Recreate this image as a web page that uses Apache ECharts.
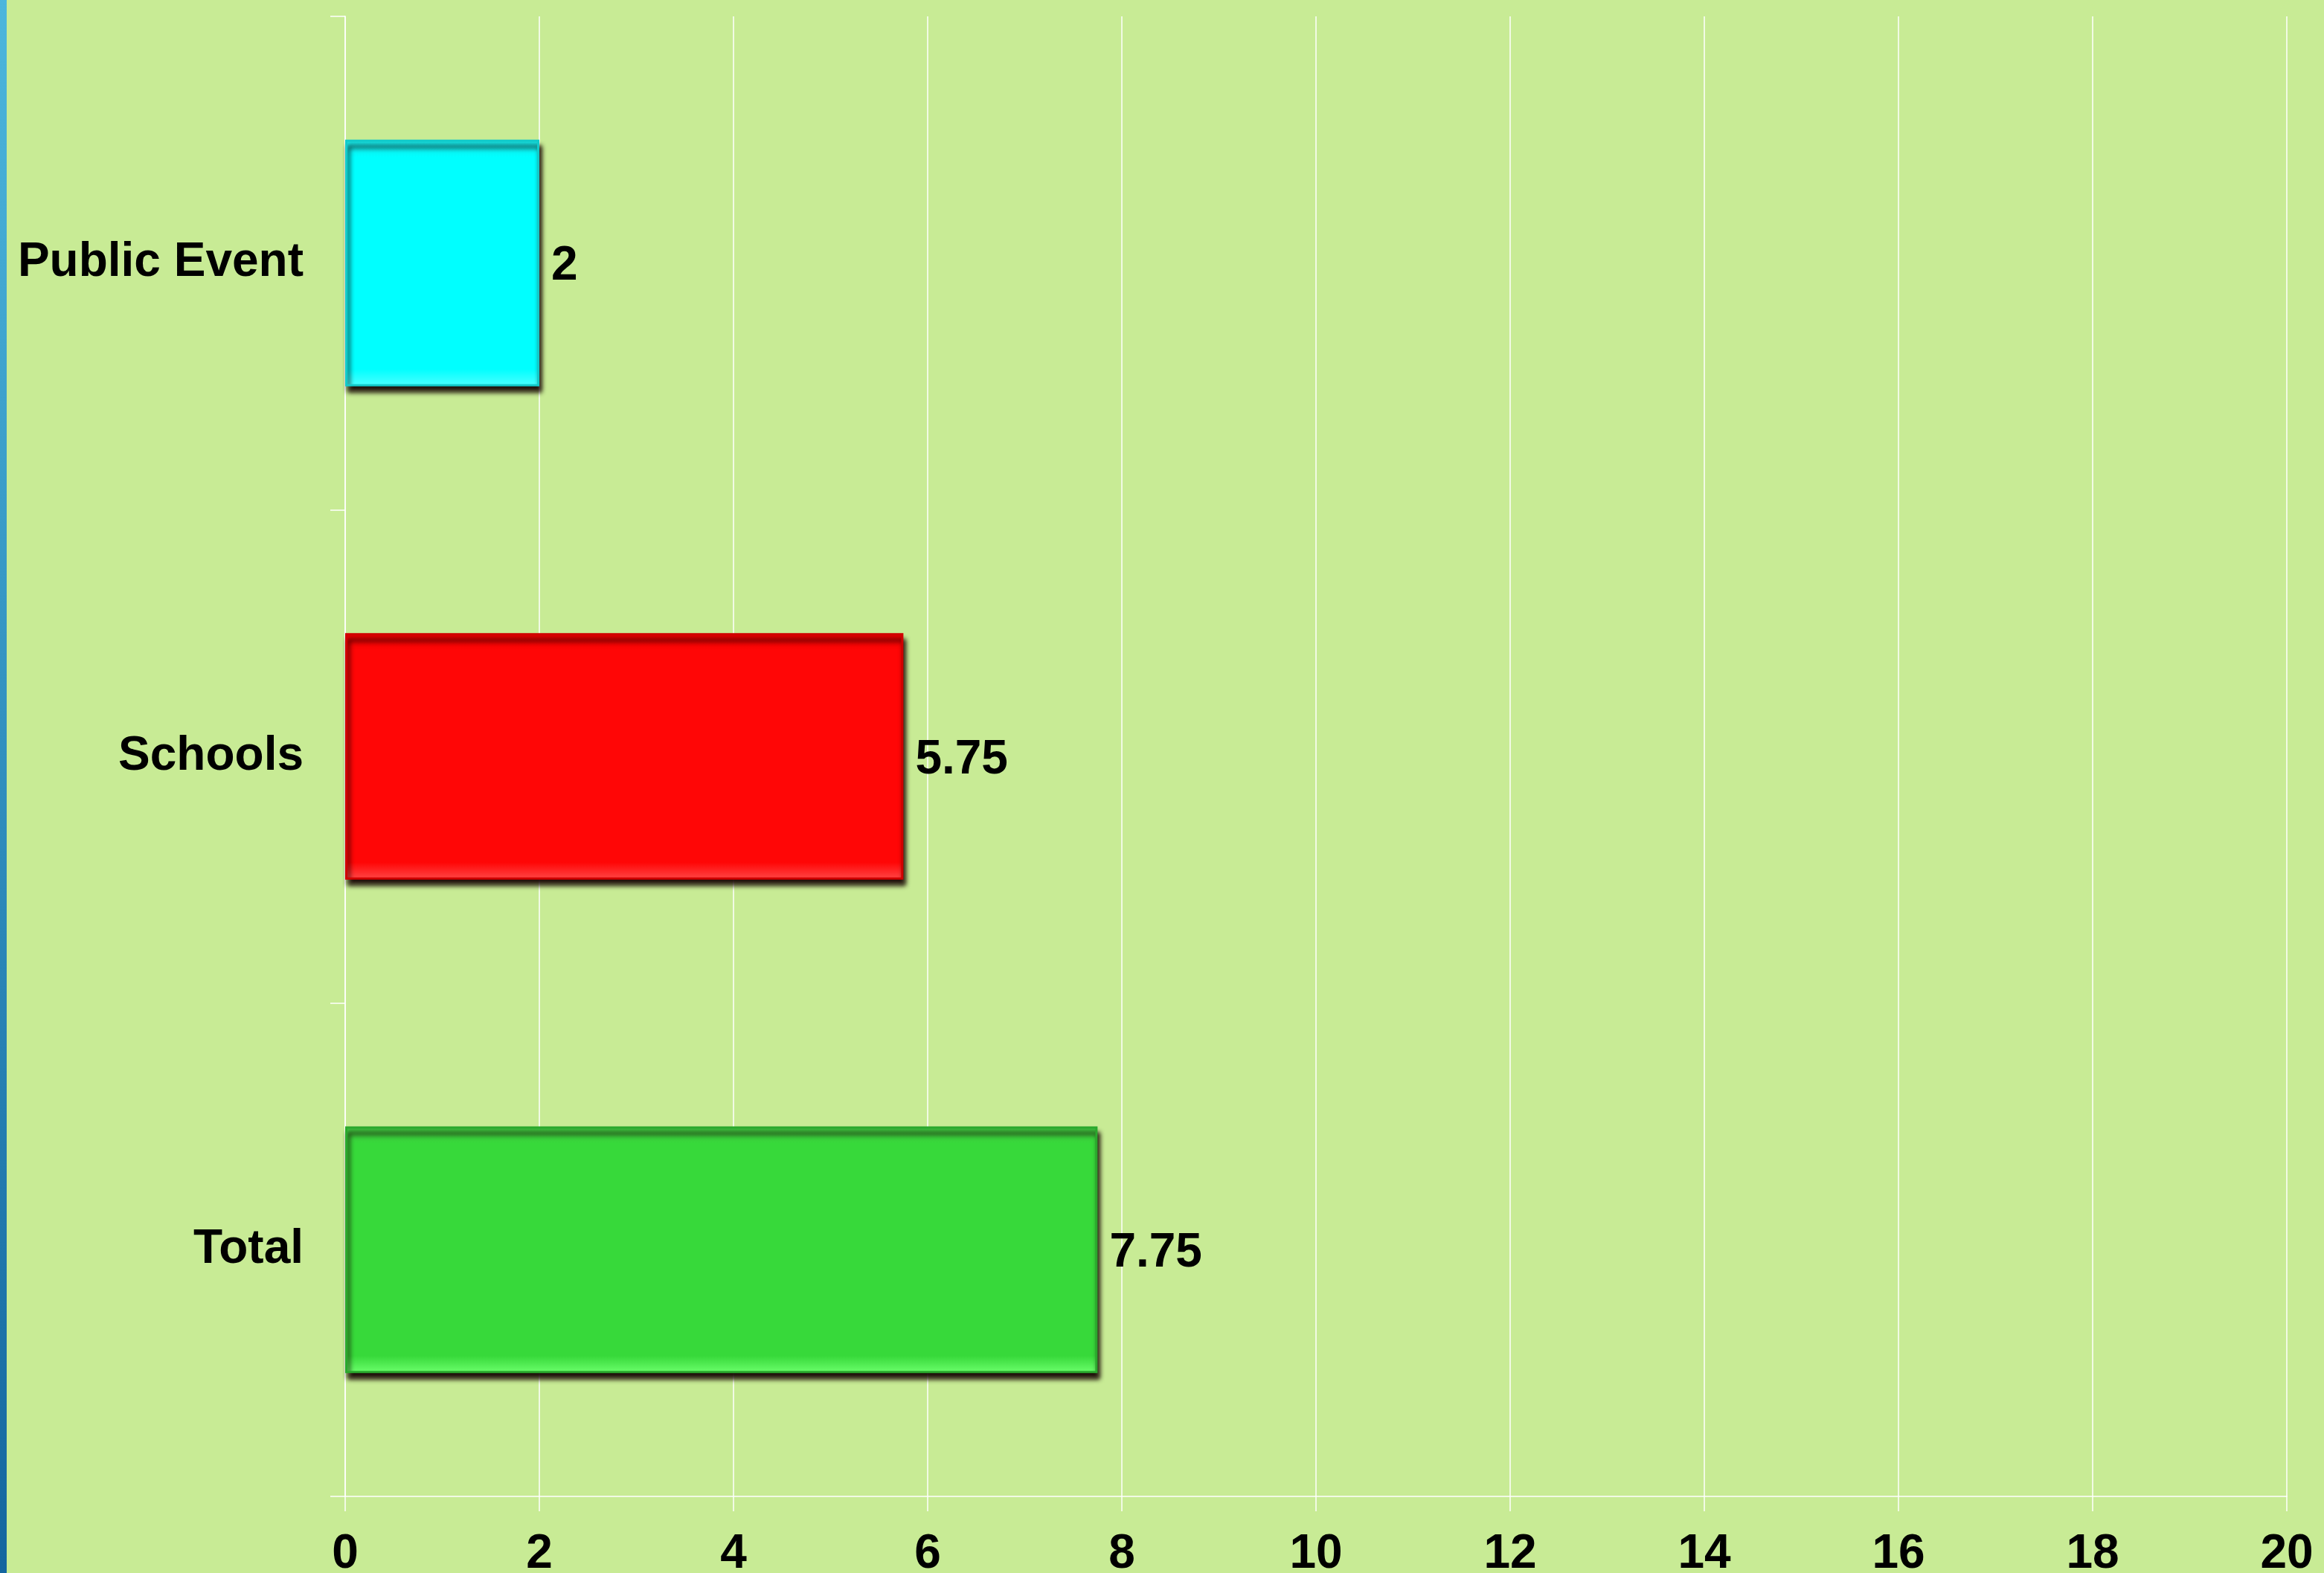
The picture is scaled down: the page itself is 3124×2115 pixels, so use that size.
<!DOCTYPE html>
<html>
<head>
<meta charset="utf-8">
<script src="https://cdn.jsdelivr.net/npm/echarts@6/dist/echarts.min.js"></script>
<style>
  html, body { margin: 0; padding: 0; background: #c8eb95; }
  #main { width: 3124px; height: 2115px; }
</style>
</head>
<body>
<div id="main"></div>
<script>
  // data
  var categories = ['Public Event', 'Schools', 'Total'];
  var values = [2, 5.75, 7.75];
  var xTicks = [0, 2, 4, 6, 8, 10, 12, 14, 16, 18, 20];

  // bevel look: [top edge, face, bottom edge, border]
  var barColors = [
    ['#1ae0e0', '#00ffff', '#4dffff', '#12caca'],
    ['#e40000', '#ff0606', '#ff4848', '#d00000'],
    ['#40c040', '#37d93a', '#6cff6c', '#2aa82d']
  ];

  var font = '"Liberation Sans", Arial, sans-serif';
  var chart = echarts.init(document.getElementById('main'));

  var barData = values.map(function (v, i) {
    var c = barColors[i];
    return {
      value: v,
      itemStyle: {
        color: {
          type: 'linear', x: 0, y: 0, x2: 0, y2: 1,
          colorStops: [
            { offset: 0, color: c[0] },
            { offset: 0.07, color: c[1] },
            { offset: 0.93, color: c[1] },
            { offset: 1, color: c[2] }
          ]
        },
        borderColor: c[3],
        borderWidth: 3
      }
    };
  });

  var option = {
    backgroundColor: '#c8eb95',
    animation: false,
    graphic: [{
      type: 'rect',
      left: 0, top: 0,
      shape: { width: 9, height: 2115 },
      style: {
        fill: {
          type: 'linear', x: 0, y: 0, x2: 0, y2: 1,
          colorStops: [
            { offset: 0, color: '#4cb6dc' },
            { offset: 1, color: '#14669f' }
          ]
        }
      }
    }],
    grid: { left: 464, right: 50, top: 22, bottom: 103, containLabel: false, outerBoundsMode: 'none' },
    xAxis: {
      type: 'value',
      min: xTicks[0],
      max: xTicks[xTicks.length - 1],
      interval: 2,
      axisLine: { show: true, lineStyle: { color: 'rgba(255,255,255,0.75)', width: 2 } },
      axisTick: { show: true, length: 20, lineStyle: { color: 'rgba(255,255,255,0.75)', width: 2 } },
      splitLine: { show: true, lineStyle: { color: 'rgba(255,255,255,0.75)', width: 2 } },
      axisLabel: {
        margin: 46,
        color: '#000',
        fontFamily: font,
        fontWeight: 'bold',
        fontSize: 64
      }
    },
    yAxis: {
      type: 'category',
      data: categories,
      inverse: true,
      axisLine: { show: true, lineStyle: { color: 'rgba(255,255,255,0.75)', width: 2 } },
      axisTick: { show: true, length: 20, lineStyle: { color: 'rgba(255,255,255,0.75)', width: 2 } },
      axisLabel: {
        margin: 56,
        color: '#000',
        fontFamily: font,
        fontWeight: 'bold',
        fontSize: 64,
        padding: [10, 0, 0, 0]
      }
    },
    series: [{
      type: 'bar',
      data: barData,
      barWidth: '50%',
      itemStyle: {
        shadowColor: 'rgba(20,0,0,0.95)',
        shadowBlur: 6,
        shadowOffsetX: 3,
        shadowOffsetY: 8
      },
      label: {
        show: true,
        position: 'right',
        distance: 16,
        offset: [0, 5],
        color: '#000',
        fontFamily: font,
        fontWeight: 'bold',
        fontSize: 64
      }
    }]
  };

  chart.setOption(option);
</script>
</body>
</html>
